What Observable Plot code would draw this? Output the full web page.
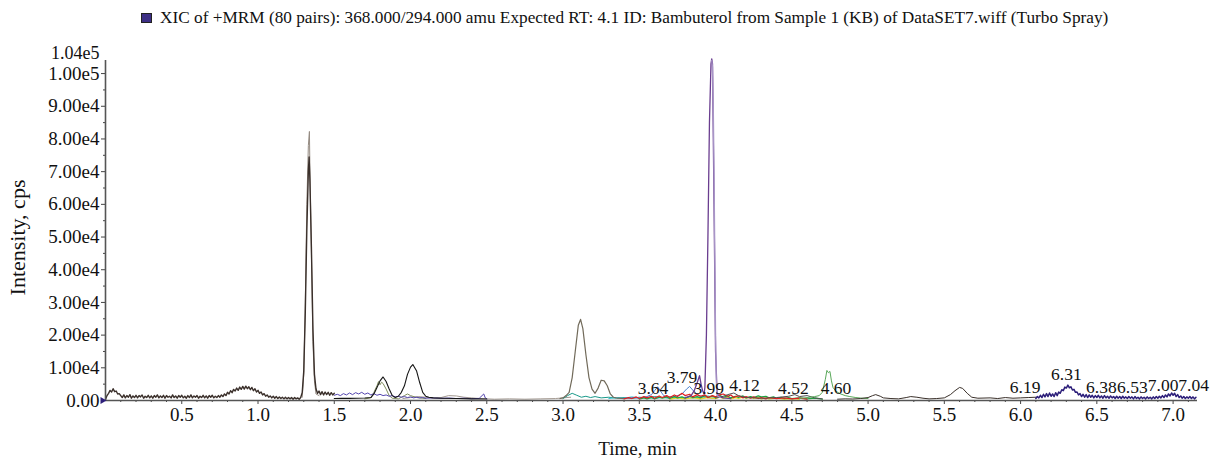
<!DOCTYPE html>
<html>
<head>
<meta charset="utf-8">
<script src="https://cdn.jsdelivr.net/npm/d3@7"></script>
<script src="https://cdn.jsdelivr.net/npm/@observablehq/plot@0.6"></script>
<style>
  html, body { margin: 0; padding: 0; background: #fff; }
  body { width: 1212px; height: 459px; position: relative; overflow: hidden; font-family: "Liberation Serif", "Times New Roman", serif; }
  #title { position: absolute; left: 141px; top: 8px; font-size: 17.25px; white-space: nowrap; color: #111; display: flex; align-items: center; }
  #title .sq { display: inline-block; width: 9px; height: 8px; background: #3d2f85; border: 1px solid #222; margin-right: 8px; }
  #chart { position: absolute; left: 0; top: 40px; }
</style>
</head>
<body>
<div id="title"><span class="sq"></span><span>XIC of +MRM (80 pairs): 368.000/294.000 amu Expected RT: 4.1 ID: Bambuterol from Sample 1 (KB) of DataSET7.wiff (Turbo Spray)</span></div>
<div id="chart"></div>
<script>
// ---- data: [time (min), intensity (cps)] ----
const brownTrace = [[0.00,300],[0.01,1500],[0.02,2200],[0.03,3100],[0.04,2600],[0.05,3600],[0.06,2700],[0.07,2900],[0.08,2000],[0.09,2100],
[0.10,1500],[0.11,900],[0.12,1700],[0.13,800],[0.14,1500],[0.15,1000],[0.16,1800],[0.17,700],[0.18,1400],[0.19,900],[0.20,1600],[0.21,800],[0.22,1500],[0.23,1100],[0.24,1700],[0.25,700],[0.26,1300],[0.27,900],[0.28,1600],[0.29,800],[0.30,1400],[0.31,700],[0.32,1500],[0.33,1000],[0.34,1700],[0.35,800],[0.36,1400],[0.37,900],[0.38,1600],[0.39,700],[0.40,1500],[0.41,1000],[0.42,1300],[0.43,800],[0.44,1700],[0.45,900],[0.46,1400],[0.47,700],[0.48,1500],[0.49,1000],[0.50,1600],[0.51,800],[0.52,1300],[0.53,700],[0.54,1500],[0.55,900],[0.56,1700],[0.57,800],[0.58,1400],[0.59,1000],[0.60,1500],[0.61,700],[0.62,1300],[0.63,900],[0.64,1600],[0.65,800],[0.66,1400],[0.67,700],[0.68,1500],[0.69,1000],[0.70,1600],[0.71,800],[0.72,1300],[0.73,900],[0.74,1500],[0.75,1000],[0.76,1700],
[0.77,1200],[0.78,2000],[0.79,1500],[0.80,2500],[0.81,2000],[0.82,3000],[0.83,2400],[0.84,3400],[0.85,2900],[0.86,3800],[0.87,3100],[0.88,4100],[0.89,3400],[0.90,4300],[0.91,3500],[0.92,4400],[0.93,3600],[0.94,4200],[0.95,3300],[0.96,4000],[0.97,3000],[0.98,3600],[0.99,2600],[1.00,3100],[1.01,2200],[1.02,2600],[1.03,1700],[1.04,2100],[1.05,1300],[1.06,1700],[1.07,1000],[1.08,1400],[1.09,800],[1.10,1300],[1.11,700],[1.12,1200],[1.13,600],[1.14,1100],[1.15,600],[1.16,1000],[1.17,500],[1.18,1000],[1.19,500],[1.20,900],[1.21,500],[1.22,900],[1.23,400],[1.24,900],[1.25,500],[1.26,800],[1.27,400],[1.28,900],
[1.29,2500],[1.30,9000],[1.31,27000],[1.32,52000],[1.33,70000],[1.335,74500],[1.34,68000],[1.35,47000],[1.36,22000],[1.37,8000],[1.38,3600],[1.39,2200],[1.40,2900],[1.41,1800],[1.42,2700],[1.43,1700],[1.44,2600],[1.45,1800],[1.46,2500],[1.47,1600],[1.48,2400],[1.49,1700],[1.50,2200]];
const grayPeakTrace = [[1.29,1000],[1.30,8000],[1.31,30000],[1.32,60000],[1.33,78000],[1.337,82300],[1.34,72000],[1.35,45000],[1.36,18000],[1.37,6000],[1.38,2000],[1.40,1500]];
const violetTrace = [[1.50,1600],[1.52,1900],[1.54,1500],[1.56,2100],[1.58,1700],[1.60,2300],[1.62,1800],[1.64,2400],[1.66,2000],[1.68,2500],[1.70,1900],[1.72,2300],[1.74,1700],[1.76,2100],[1.78,1600],[1.80,1900],[1.82,1500],[1.84,1700],[1.86,1300],[1.88,1500],[1.90,1100],[1.92,1300],[1.94,1000],[1.96,1200],[1.98,900],[2.00,1100],[2.02,800],[2.04,1000],[2.06,800],[2.08,900],[2.10,700],[2.15,800],[2.20,650],[2.25,750],[2.30,600],[2.35,700],[2.40,550],[2.45,650],[2.48,2000],[2.49,800],[2.50,500]];
const blackTrace = [[1.50,600],[1.55,700],[1.60,650],[1.65,700],[1.70,750],[1.74,900],[1.76,2000],[1.78,4000],[1.80,6000],[1.82,7200],[1.84,5800],[1.86,3500],[1.88,1500],[1.90,900],[1.92,1300],[1.94,2500],[1.96,4500],[1.98,8000],[2.00,10200],[2.015,11000],[2.04,9000],[2.06,5500],[2.08,2500],[2.10,1300],[2.12,1000],[2.15,800],[2.20,700],[2.30,600],[2.40,500],[2.50,450]];
const oliveTrace = [[1.70,500],[1.74,800],[1.76,2500],[1.78,4500],[1.79,5800],[1.80,4800],[1.81,5600],[1.82,5200],[1.84,3500],[1.86,1500],[1.88,700],[1.92,500],[1.96,1500],[1.98,2000],[2.00,1500],[2.04,900],[2.10,600]];
const grayTrace = [[1.95,600],[2.00,900],[2.05,1200],[2.10,1000],[2.15,700],[2.20,900],[2.25,1500],[2.30,1400],[2.35,1000],[2.40,800],[2.45,600],[2.50,500],[2.55,400],[2.65,500],[2.75,400],[2.85,500],[2.95,600],[3.00,800],[3.05,1000]];
const taupeTrace = [[2.98,600],[3.00,800],[3.02,1500],[3.04,2500],[3.06,7000],[3.08,15000],[3.10,23000],[3.115,24800],[3.13,22000],[3.15,14000],[3.17,7000],[3.19,3500],[3.21,2200],[3.23,3800],[3.25,6200],[3.27,6000],[3.29,4500],[3.31,2000],[3.33,1000],[3.36,700],[3.40,600]];
const tealTrace = [[3.00,600],[3.03,1500],[3.06,2200],[3.09,1600],[3.12,1000],[3.15,1300],[3.18,900],[3.21,1200],[3.25,800],[3.30,1000],[3.35,700],[3.40,900],[3.45,600],[3.50,1000],[3.55,800],[3.60,1200],[3.65,900],[3.70,700]];
const cyanTrace = [[3.30,600],[3.35,900],[3.40,700],[3.45,1100],[3.50,800],[3.55,1000],[3.60,600],[3.65,900],[3.70,1200],[3.75,800],[3.80,1000],[3.85,700],[3.90,1100],[3.95,1400],[4.00,900]];
const blueTrace = [[3.40,600],[3.45,900],[3.50,700],[3.55,1200],[3.58,1800],[3.60,3000],[3.62,4200],[3.64,2800],[3.66,1500],[3.70,900],[3.74,1300],[3.78,2000],[3.81,3500],[3.83,4300],[3.85,3200],[3.88,1800],[3.92,1000],[3.96,800],[4.00,600]];
const redTrace = [[3.40,500],[3.43,900],[3.45,600],[3.48,1100],[3.50,600],[3.53,1200],[3.55,800],[3.58,1300],[3.60,700],[3.63,1400],[3.65,900],[3.68,1500],[3.70,900],[3.73,1700],[3.75,1200],[3.78,2200],[3.80,1500],[3.83,1900],[3.85,1100],[3.88,1800],[3.90,1300],[3.93,1700],[3.95,900],[3.98,1500],[4.00,1100],[4.03,1800],[4.05,2000],[4.08,1300],[4.10,1700],[4.12,900],[4.14,1400],[4.16,1300],[4.18,800],[4.20,1200],[4.23,700],[4.25,1100],[4.28,600],[4.30,900],[4.33,500],[4.35,900],[4.40,600],[4.45,800],[4.50,500],[4.55,700],[4.60,400]];
const greenTrace = [[3.50,400],[3.53,800],[3.55,500],[3.58,900],[3.60,500],[3.63,1000],[3.65,700],[3.68,1100],[3.70,600],[3.73,1200],[3.75,800],[3.78,1100],[3.80,700],[3.83,1300],[3.85,900],[3.88,1200],[3.90,800],[3.93,1500],[3.95,1000],[3.98,1400],[4.00,900],[4.03,1500],[4.05,1000],[4.08,1400],[4.10,800],[4.13,1300],[4.15,900],[4.18,1400],[4.20,800],[4.23,1200],[4.25,900],[4.28,1400],[4.30,1100],[4.33,1300],[4.35,800],[4.38,1100],[4.40,700],[4.43,1000],[4.45,600],[4.48,900],[4.50,600],[4.55,800],[4.60,500],[4.65,700],[4.70,400]];
const yellowTrace = [[3.70,400],[3.75,800],[3.80,500],[3.85,900],[3.90,500],[3.95,900],[4.00,600],[4.03,1000],[4.05,600],[4.08,1100],[4.10,500],[4.13,900],[4.15,600],[4.18,1000],[4.20,700],[4.23,1100],[4.25,600],[4.28,900],[4.30,500],[4.33,800],[4.35,500],[4.40,700],[4.45,400],[4.50,600],[4.55,400]];
const purpleTrace = [[3.80,800],[3.84,1500],[3.86,3000],[3.88,5500],[3.895,7600],[3.905,5000],[3.915,3000],[3.925,2000],[3.93,4000],[3.94,20000],[3.95,50000],[3.96,85000],[3.97,103000],[3.975,104500],[3.98,103000],[3.99,60000],[4.00,15000],[4.01,2500],[4.02,1200],[4.05,800],[4.10,600]];
const lavenderTrace = [[3.975,104000],[3.98,102000],[3.985,90000],[3.99,70000],[3.995,45000],[4.00,20000],[4.005,6000],[4.01,1500],[4.03,900]];
const darkGrayTrace = [[4.00,700],[4.05,1300],[4.08,1800],[4.12,2300],[4.15,1500],[4.20,900],[4.30,700],[4.40,900],[4.48,1300],[4.52,1800],[4.55,1200],[4.60,1500],[4.65,800],[4.70,500]];
const mintTrace = [[4.55,600],[4.60,900],[4.65,1200],[4.68,1500],[4.70,2500],[4.72,6500],[4.73,9200],[4.74,8500],[4.75,8900],[4.76,6000],[4.77,4000],[4.79,2800],[4.82,2000],[4.85,1500],[4.88,1200],[4.92,900],[4.96,700],[5.00,600]];
const sepiaTrace = [[4.80,400],[4.85,500],[4.90,450],[4.95,600],[5.00,900],[5.03,1500],[5.05,1800],[5.08,1300],[5.10,800],[5.15,600],[5.20,500],[5.25,900],[5.28,1200],[5.32,1000],[5.36,700],[5.40,500],[5.45,600],[5.50,800],[5.54,1800],[5.57,3000],[5.60,4000],[5.62,3700],[5.65,2200],[5.68,1000],[5.72,700],[5.80,800],[5.85,600],[5.90,900],[5.95,700],[6.00,800],[6.05,900],[6.10,1000]];
const navyTrace = [[6.10,600],[6.11,1200],[6.12,800],[6.13,1600],[6.14,900],[6.15,1900],[6.16,1100],[6.17,2100],[6.18,1200],[6.19,2300],[6.20,1300],[6.21,2000],[6.22,1200],[6.23,2400],[6.24,1500],[6.25,2600],[6.26,2200],[6.27,3300],[6.28,3000],[6.29,4100],[6.30,3800],[6.31,4700],[6.32,3900],[6.33,4200],[6.34,3200],[6.35,3400],[6.36,2500],[6.37,2600],[6.38,1700],[6.39,2100],[6.40,1200],[6.41,1900],[6.42,1000],[6.43,1800],[6.44,900],[6.45,1700],[6.46,1000],[6.47,1600],[6.48,800],[6.49,1500],[6.50,900],[6.51,1600],[6.52,800],[6.53,1400],[6.54,700],[6.55,1500],[6.56,800],[6.57,1300],[6.58,700],[6.59,1400],[6.60,800],[6.61,1200],[6.62,600],[6.63,1300],[6.64,700],[6.65,1200],[6.66,600],[6.67,1300],[6.68,700],[6.69,1100],[6.70,600],[6.71,1200],[6.72,700],[6.73,1100],[6.74,500],[6.75,1200],[6.76,600],[6.77,1000],[6.78,500],[6.79,1100],[6.80,600],[6.81,1000],[6.82,500],[6.83,1100],[6.84,600],[6.85,1000],[6.86,500],[6.87,1100],[6.88,600],[6.89,1200],[6.90,700],[6.91,1300],[6.92,800],[6.93,1500],[6.94,900],[6.95,1700],[6.96,1100],[6.97,2000],[6.98,1400],[6.99,2300],[7.00,1600],[7.01,2200],[7.02,1200],[7.03,1800],[7.04,900],[7.05,1400],[7.06,700],[7.07,1200],[7.08,600],[7.09,1100],[7.10,700],[7.11,1200],[7.12,600],[7.13,1100],[7.14,500],[7.15,1000]];

// peak labels: text, and the (time, intensity) where each label sits
const peakLabels = ["3.64","3.79","3.99","4.12","4.52","4.60","6.19","6.31","6.38","6.53","7.00","7.04"];
const labelTimes = [3.59,3.78,3.955,4.19,4.51,4.79,6.03,6.30,6.53,6.733,6.935,7.135];
const labelIntensities = [3700,7200,3700,4600,3700,3700,4000,8000,4000,4000,4600,4600];

// axis ticks
const yTickValues = [0,10000,20000,30000,40000,50000,60000,70000,80000,90000,100000];
const yTopTick = [104000];
const yMinorTicks = [5000,15000,25000,35000,45000,55000,65000,75000,85000,95000];
const xTickValues = [0.5,1.0,1.5,2.0,2.5,3.0,3.5,4.0,4.5,5.0,5.5,6.0,6.5,7.0];
const xMinorTicks = [0.1,0.2,0.3,0.4,0.6,0.7,0.8,0.9,1.1,1.2,1.3,1.4,1.6,1.7,1.8,1.9,2.1,2.2,2.3,2.4,2.6,2.7,2.8,2.9,3.1,3.2,3.3,3.4,3.6,3.7,3.8,3.9,4.1,4.2,4.3,4.4,4.6,4.7,4.8,4.9,5.1,5.2,5.3,5.4,5.6,5.7,5.8,5.9,6.1,6.2,6.3,6.4,6.6,6.7,6.8,6.9,7.1];

// ---- styles (kept separate from data) ----
const traces = [
  {d: grayTrace,     c: "#a49a92", w: 1},
  {d: oliveTrace,    c: "#7f8d5d", w: 1},
  {d: violetTrace,   c: "#5546b0", w: 1},
  {d: blackTrace,    c: "#151515", w: 1.1},
  {d: grayPeakTrace, c: "#958b82", w: 1},
  {d: brownTrace,    c: "#3b302b", w: 1.4},
  {d: tealTrace,     c: "#1a9a8a", w: 1},
  {d: cyanTrace,     c: "#30c0d0", w: 1},
  {d: taupeTrace,    c: "#716a5a", w: 1.2},
  {d: blueTrace,     c: "#4a80d0", w: 1},
  {d: yellowTrace,   c: "#e8d820", w: 1.2},
  {d: greenTrace,    c: "#20a040", w: 1.2},
  {d: redTrace,      c: "#e02020", w: 1.2},
  {d: darkGrayTrace, c: "#505050", w: 1},
  {d: purpleTrace,   c: "#6a3d8f", w: 1.3},
  {d: lavenderTrace, c: "#a895c8", w: 1.3},
  {d: mintTrace,     c: "#5aa85a", w: 1},
  {d: sepiaTrace,    c: "#3a302a", w: 1},
  {d: navyTrace,     c: "#2d1f7a", w: 1.5}
];

const fmtY = d => d === 0 ? "0.00" : d.toExponential(2).replace("e+", "e");
const fmtX = d => d.toFixed(1);

const labelRows = peakLabels.map((t, i) => ({t: labelTimes[i], v: labelIntensities[i], text: t}));

const marks = [
  ...traces.map(s => Plot.line(s.d, {x: d => d[0], y: d => d[1], stroke: s.c, strokeWidth: s.w, curve: "linear"})),
  Plot.text(labelRows, {x: "t", y: "v", text: "text", fill: "#111", fontSize: 17.5, textAnchor: "middle", lineAnchor: "middle"}),
  Plot.axisY({ticks: yMinorTicks, tickFormat: () => "", tickSize: 2, label: null, stroke: "#444"}),
  Plot.axisY({ticks: yTickValues, tickFormat: fmtY, tickSize: 4, tickPadding: 2, fontSize: 19, label: null, stroke: "#444"}),
  Plot.axisY({ticks: yTopTick, tickFormat: fmtY, tickSize: 0, tickPadding: 6, dy: -7, fontSize: 18, label: null}),
  Plot.axisX({ticks: xMinorTicks, tickSize: 2, tickFormat: () => "", label: null, stroke: "#444"}),
  Plot.axisX({ticks: xTickValues, tickFormat: fmtX, tickSize: 4, tickPadding: 3, fontSize: 19, label: null, stroke: "#444"}),
  Plot.ruleX([0], {x: d => d, stroke: "#555", strokeWidth: 1.6}),
  Plot.ruleY([0], {y: d => d, stroke: "#555", strokeWidth: 1.3}),
  Plot.dot([0], {x: d => d, y: d => d, dx: -3, symbol: "triangle", r: 2.6, rotate: 90, fill: "#2d1f7a", stroke: "none"}),
  Plot.text(["Time, min"], {frameAnchor: "bottom", dy: 48, dx: -14, fontSize: 19, fill: "#111", lineAnchor: "middle"}),
  Plot.text(["Intensity, cps"], {frameAnchor: "left", dx: -88, dy: 7, rotate: -90, textAnchor: "middle", fontSize: 22, fill: "#111"})
];

const plot = Plot.plot({
  width: 1212,
  height: 419,
  marginLeft: 105,
  marginRight: 15,
  marginTop: 20,
  marginBottom: 59,
  style: {fontFamily: "'Liberation Serif', 'Times New Roman', serif", fontSize: "19px", color: "#111", background: "white", overflow: "visible"},
  x: {domain: [0, 7.16], axis: null},
  y: {domain: [0, 104000], axis: null},
  marks
});
document.getElementById("chart").appendChild(plot);
</script>
</body>
</html>
